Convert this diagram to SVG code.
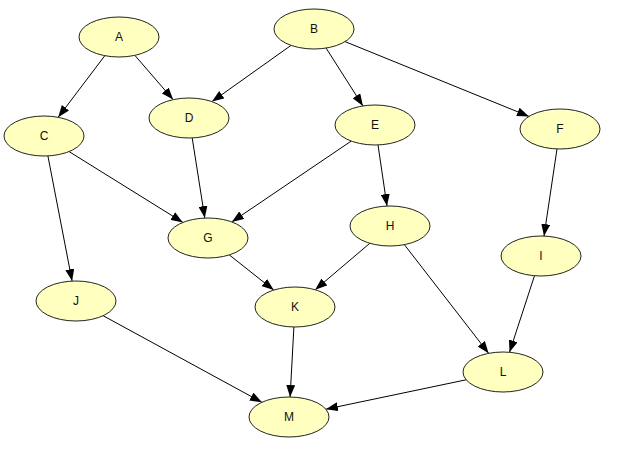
<svg xmlns="http://www.w3.org/2000/svg" width="626" height="463" viewBox="0 0 626 463">
<defs>
<style>
.n ellipse{fill:#ffffc0;stroke:#222;stroke-width:1}
.n text{font-family:"Liberation Sans",Arial,sans-serif;font-size:12px;fill:#111;text-anchor:middle;dominant-baseline:central}
.e line{stroke:#000;stroke-width:1;marker-end:url(#ah)}
</style>
<marker id="ah" markerUnits="userSpaceOnUse" markerWidth="12" markerHeight="9" refX="12" refY="4.5" orient="auto">
<path d="M0,0 L12,4.5 L0,9 z" fill="#000"/>
</marker>
</defs>
<rect width="626" height="463" fill="#fff"/>
<g id="edges" class="e">
<line x1="104.8" y1="55.7" x2="58.2" y2="117.3"/>
<line x1="134.9" y1="55.4" x2="173.1" y2="99.6"/>
<line x1="291" y1="45.4" x2="212" y2="101.6"/>
<line x1="326.1" y1="48.1" x2="362.9" y2="105.9"/>
<line x1="345" y1="41.6" x2="529" y2="116.4"/>
<line x1="69.1" y1="151.6" x2="182.9" y2="222.4"/>
<line x1="47.9" y1="155.9" x2="72.1" y2="281.1"/>
<line x1="192.2" y1="137.9" x2="204.8" y2="218.1"/>
<line x1="351.2" y1="141.1" x2="231.8" y2="221.9"/>
<line x1="378" y1="144.9" x2="387" y2="206.1"/>
<line x1="557" y1="148.9" x2="544" y2="236.1"/>
<line x1="229.3" y1="254.9" x2="273.7" y2="290.1"/>
<line x1="369.8" y1="243.3" x2="315.2" y2="289.7"/>
<line x1="404.4" y1="244.7" x2="488.6" y2="353.3"/>
<line x1="534.5" y1="275.7" x2="509.5" y2="352.3"/>
<line x1="103.1" y1="315.7" x2="261.9" y2="402.3"/>
<line x1="293.9" y1="327" x2="290.1" y2="397"/>
<line x1="466.1" y1="379.8" x2="325.9" y2="409.2"/>
</g>
<g id="A" class="n"><ellipse cx="119" cy="37" rx="40" ry="20"/><text x="119" y="37">A</text></g>
<g id="B" class="n"><ellipse cx="314" cy="29" rx="40" ry="20"/><text x="314" y="29">B</text></g>
<g id="C" class="n"><ellipse cx="44" cy="136" rx="40" ry="20"/><text x="44" y="136">C</text></g>
<g id="D" class="n"><ellipse cx="189" cy="118" rx="40" ry="20"/><text x="189" y="118">D</text></g>
<g id="E" class="n"><ellipse cx="375" cy="125" rx="40" ry="20"/><text x="375" y="125">E</text></g>
<g id="F" class="n"><ellipse cx="560" cy="129" rx="40" ry="20"/><text x="560" y="129">F</text></g>
<g id="G" class="n"><ellipse cx="208" cy="238" rx="40" ry="20"/><text x="208" y="238">G</text></g>
<g id="H" class="n"><ellipse cx="390" cy="226" rx="40" ry="20"/><text x="390" y="226">H</text></g>
<g id="I" class="n"><ellipse cx="541" cy="256" rx="40" ry="20"/><text x="541" y="256">I</text></g>
<g id="J" class="n"><ellipse cx="76" cy="301" rx="40" ry="20"/><text x="76" y="301">J</text></g>
<g id="K" class="n"><ellipse cx="295" cy="307" rx="40" ry="20"/><text x="295" y="307">K</text></g>
<g id="L" class="n"><ellipse cx="503" cy="372" rx="40" ry="20"/><text x="503" y="372">L</text></g>
<g id="M" class="n"><ellipse cx="289" cy="417" rx="40" ry="20"/><text x="289" y="417">M</text></g>
</svg>
